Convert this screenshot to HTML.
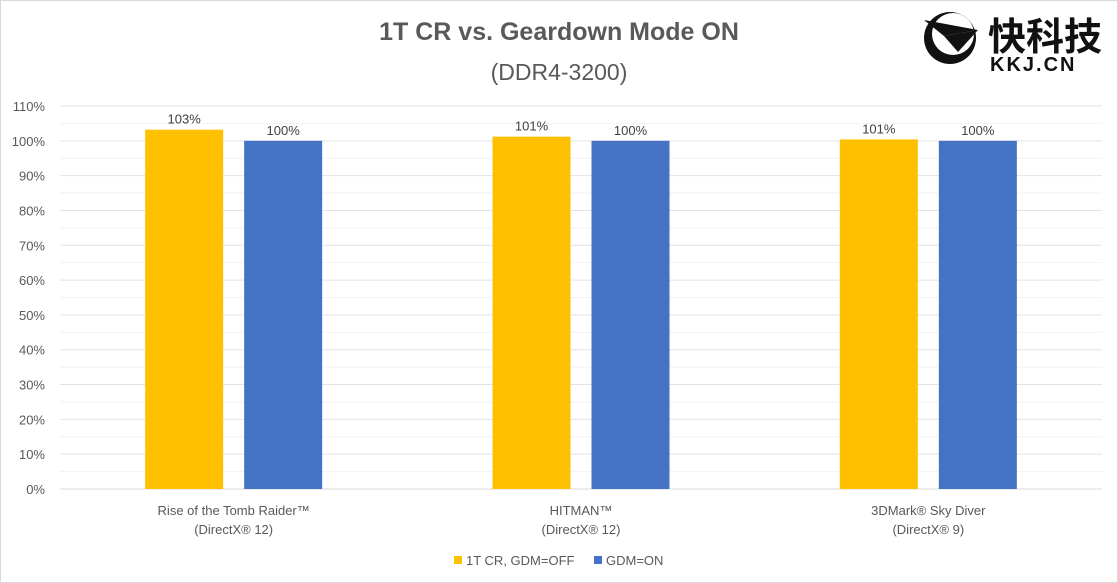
<!DOCTYPE html>
<html><head><meta charset="utf-8"><style>
body{margin:0;background:#fff;}
#wrap{position:relative;width:1118px;height:583px;overflow:hidden;font-family:"Liberation Sans","Noto Sans CJK SC",sans-serif;}
</style></head><body>
<div id="wrap">
<svg id="chart" width="1118" height="583">
<rect x="0.5" y="0.5" width="1117" height="582" fill="#fff" stroke="#d9d9d9"/>
<text x="559" y="40" text-anchor="middle" font-size="25" font-weight="bold" fill="#595959">1T CR vs. Geardown Mode ON</text>
<text x="559" y="80" text-anchor="middle" font-size="23" fill="#595959">(DDR4-3200)</text>
<g>
<circle cx="950" cy="38" r="26" fill="#111"/>
<circle cx="953" cy="34" r="21" fill="#fff"/>
<polygon points="924,20 978,30 944,36" fill="#111"/>
<polygon points="944,36 978,30 958,52" fill="#111"/>
<text x="988" y="50" font-size="38" font-weight="bold" fill="#111" font-family="'Noto Sans CJK SC',sans-serif">快科技</text>
<text x="990" y="71" font-size="20" font-weight="bold" fill="#111" letter-spacing="2">KKJ.CN</text>
</g>
<g id="grid"></g><g id="bars"></g><g id="axis"></g>
<g>
<rect x="454" y="556" width="8" height="8" fill="#ffc000"/>
<text x="466" y="565" font-size="13" fill="#595959">1T CR, GDM=OFF</text>
<rect x="594" y="556" width="8" height="8" fill="#4472c4"/>
<text x="606" y="565" font-size="13" fill="#595959">GDM=ON</text>
</g>
</svg>
</div>
<script>
const categories=[["Rise of the Tomb Raider™","(DirectX® 12)"],["HITMAN™","(DirectX® 12)"],["3DMark® Sky Diver","(DirectX® 9)"]];
const offValues=[103.2,101.2,100.4];
const offLabels=["103%","101%","101%"];
const onValues=[100,100,100];
const onLabels=["100%","100%","100%"];
const yTicks=[0,10,20,30,40,50,60,70,80,90,100,110];
const NS="http://www.w3.org/2000/svg";
const x0=60,x1=1102,y0=489,y1=106,ymax=110;
const y=v=>y0-(v/ymax)*(y0-y1);
const bw=(x1-x0)/categories.length;
function el(t,a,p){const e=document.createElementNS(NS,t);for(const k in a)e.setAttribute(k,a[k]);p.appendChild(e);return e;}
const g=document.getElementById('grid'),b=document.getElementById('bars'),ax=document.getElementById('axis');
for(let v=5;v<ymax;v+=10){const l=el('line',{x1:x0,x2:x1,y1:y(v),y2:y(v),stroke:'#f2f2f2'},g);

}
yTicks.forEach(v=>{const l=el('line',{x1:x0,x2:x1,y1:y(v),y2:y(v),stroke:v===0?'#d9d9d9':'#e3e3e3'},g);


const t=el('text',{x:45,y:y(v)+5,'text-anchor':'end','font-size':13,fill:'#595959'},ax);t.textContent=v+'%';

});
categories.forEach((c,i)=>{const cx=x0+bw*(i+0.5);
[[offValues[i],offLabels[i],'#ffc000',cx-88.5],[onValues[i],onLabels[i],'#4472c4',cx+10.5]].forEach((s,j)=>{
const r=el('rect',{x:s[3],y:y(s[0]),width:78,height:y0-y(s[0]),fill:s[2]},b);


const t=el('text',{x:s[3]+39,y:y(s[0])-6,'text-anchor':'middle','font-size':13,fill:'#404040'},b);t.textContent=s[1];

});
c.forEach((line,k)=>{const t=el('text',{x:cx,y:515+k*19,'text-anchor':'middle','font-size':13,fill:'#595959'},ax);t.textContent=line;

});});
</script>
</body></html>
